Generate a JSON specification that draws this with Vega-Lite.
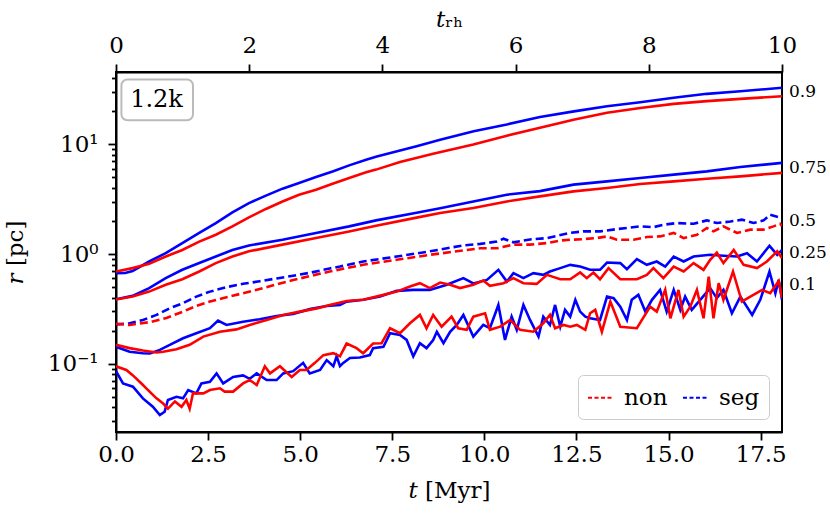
{
  "$schema": "https://vega.github.io/schema/vega-lite/v6.json",
  "width": 666,
  "height": 360,
  "autosize": {"type": "none"},
  "padding": {"left": 116, "top": 72, "right": 48, "bottom": 83},
  "config": {
    "font": "DejaVu Serif",
    "view": {"stroke": "black", "strokeWidth": 2},
    "axis": {
      "domainColor": "black", "domainWidth": 2, "tickColor": "black", "tickWidth": 1.8,
      "labelColor": "black", "titleColor": "black", "labelFont": "DejaVu Serif", "titleFont": "DejaVu Serif",
      "labelFontSize": 23, "titleFontSize": 23, "titleFontWeight": "normal", "grid": false, "tickSize": 8,
      "labelFlush": false
    }
  },
  "resolve": {"axis": {"y": "independent"}},
  "datasets": {
    "lines": [
      {"model":"seg","frac":"0.9","t":0,"r":0.671},{"model":"seg","frac":"0.9","t":0.25,"r":0.672},{"model":"seg","frac":"0.9","t":0.45,"r":0.7},{"model":"seg","frac":"0.9","t":0.9,"r":0.856},{"model":"seg","frac":"0.9","t":1.35,"r":1.02},{"model":"seg","frac":"0.9","t":1.8,"r":1.26},{"model":"seg","frac":"0.9","t":2.26,"r":1.56},{"model":"seg","frac":"0.9","t":2.71,"r":1.92},{"model":"seg","frac":"0.9","t":3.16,"r":2.4},{"model":"seg","frac":"0.9","t":3.61,"r":2.92},{"model":"seg","frac":"0.9","t":4.07,"r":3.41},{"model":"seg","frac":"0.9","t":4.52,"r":3.95},{"model":"seg","frac":"0.9","t":4.97,"r":4.45},{"model":"seg","frac":"0.9","t":5.43,"r":5.05},{"model":"seg","frac":"0.9","t":5.88,"r":5.67},{"model":"seg","frac":"0.9","t":6.33,"r":6.44},{"model":"seg","frac":"0.9","t":6.79,"r":7.26},{"model":"seg","frac":"0.9","t":7.08,"r":7.75},{"model":"seg","frac":"0.9","t":8.16,"r":9.6},{"model":"seg","frac":"0.9","t":8.8,"r":11.0},{"model":"seg","frac":"0.9","t":9.71,"r":13.2},{"model":"seg","frac":"0.9","t":10.61,"r":15.2},{"model":"seg","frac":"0.9","t":11.51,"r":17.8},{"model":"seg","frac":"0.9","t":12.43,"r":20.0},{"model":"seg","frac":"0.9","t":13.33,"r":22.3},{"model":"seg","frac":"0.9","t":14.23,"r":24.2},{"model":"seg","frac":"0.9","t":15.14,"r":26.6},{"model":"seg","frac":"0.9","t":16.04,"r":28.9},{"model":"seg","frac":"0.9","t":16.95,"r":30.5},{"model":"seg","frac":"0.9","t":18.08,"r":32.8},
      {"model":"non","frac":"0.9","t":0,"r":0.694},{"model":"non","frac":"0.9","t":0.45,"r":0.745},{"model":"non","frac":"0.9","t":0.9,"r":0.815},{"model":"non","frac":"0.9","t":1.35,"r":0.95},{"model":"non","frac":"0.9","t":1.8,"r":1.09},{"model":"non","frac":"0.9","t":2.26,"r":1.3},{"model":"non","frac":"0.9","t":2.71,"r":1.5},{"model":"non","frac":"0.9","t":3.16,"r":1.79},{"model":"non","frac":"0.9","t":3.61,"r":2.16},{"model":"non","frac":"0.9","t":4.07,"r":2.58},{"model":"non","frac":"0.9","t":4.52,"r":3.02},{"model":"non","frac":"0.9","t":4.97,"r":3.48},{"model":"non","frac":"0.9","t":5.43,"r":3.86},{"model":"non","frac":"0.9","t":5.88,"r":4.38},{"model":"non","frac":"0.9","t":6.33,"r":4.95},{"model":"non","frac":"0.9","t":6.79,"r":5.56},{"model":"non","frac":"0.9","t":7.06,"r":5.89},{"model":"non","frac":"0.9","t":7.71,"r":6.9},{"model":"non","frac":"0.9","t":8.61,"r":8.2},{"model":"non","frac":"0.9","t":9.7,"r":9.96},{"model":"non","frac":"0.9","t":10.61,"r":12.0},{"model":"non","frac":"0.9","t":11.51,"r":14.2},{"model":"non","frac":"0.9","t":12.42,"r":16.8},{"model":"non","frac":"0.9","t":13.33,"r":19.4},{"model":"non","frac":"0.9","t":14.23,"r":21.5},{"model":"non","frac":"0.9","t":15.14,"r":23.4},{"model":"non","frac":"0.9","t":16.04,"r":24.8},{"model":"non","frac":"0.9","t":16.95,"r":26.0},{"model":"non","frac":"0.9","t":18.08,"r":27.5},
      {"model":"seg","frac":"0.75","t":0,"r":0.388},{"model":"seg","frac":"0.75","t":0.45,"r":0.416},{"model":"seg","frac":"0.75","t":0.9,"r":0.489},{"model":"seg","frac":"0.75","t":1.35,"r":0.603},{"model":"seg","frac":"0.75","t":1.8,"r":0.72},{"model":"seg","frac":"0.75","t":2.26,"r":0.83},{"model":"seg","frac":"0.75","t":2.71,"r":0.95},{"model":"seg","frac":"0.75","t":3.16,"r":1.09},{"model":"seg","frac":"0.75","t":3.61,"r":1.2},{"model":"seg","frac":"0.75","t":4.52,"r":1.35},{"model":"seg","frac":"0.75","t":5.43,"r":1.56},{"model":"seg","frac":"0.75","t":6.33,"r":1.79},{"model":"seg","frac":"0.75","t":7.06,"r":2.03},{"model":"seg","frac":"0.75","t":8.16,"r":2.38},{"model":"seg","frac":"0.75","t":8.8,"r":2.62},{"model":"seg","frac":"0.75","t":9.7,"r":3.02},{"model":"seg","frac":"0.75","t":10.61,"r":3.48},{"model":"seg","frac":"0.75","t":11.51,"r":3.75},{"model":"seg","frac":"0.75","t":12.42,"r":4.3},{"model":"seg","frac":"0.75","t":13.33,"r":4.6},{"model":"seg","frac":"0.75","t":14.23,"r":4.94},{"model":"seg","frac":"0.75","t":15.14,"r":5.3},{"model":"seg","frac":"0.75","t":16.04,"r":5.68},{"model":"seg","frac":"0.75","t":16.95,"r":6.23},{"model":"seg","frac":"0.75","t":18.08,"r":6.78},
      {"model":"non","frac":"0.75","t":0,"r":0.385},{"model":"non","frac":"0.75","t":0.45,"r":0.41},{"model":"non","frac":"0.75","t":0.9,"r":0.455},{"model":"non","frac":"0.75","t":1.35,"r":0.525},{"model":"non","frac":"0.75","t":1.8,"r":0.59},{"model":"non","frac":"0.75","t":2.26,"r":0.694},{"model":"non","frac":"0.75","t":2.71,"r":0.828},{"model":"non","frac":"0.75","t":3.16,"r":0.95},{"model":"non","frac":"0.75","t":3.61,"r":1.06},{"model":"non","frac":"0.75","t":4.52,"r":1.22},{"model":"non","frac":"0.75","t":5.43,"r":1.4},{"model":"non","frac":"0.75","t":6.33,"r":1.61},{"model":"non","frac":"0.75","t":7.06,"r":1.81},{"model":"non","frac":"0.75","t":8.16,"r":2.15},{"model":"non","frac":"0.75","t":8.8,"r":2.37},{"model":"non","frac":"0.75","t":9.7,"r":2.63},{"model":"non","frac":"0.75","t":10.61,"r":3.02},{"model":"non","frac":"0.75","t":11.51,"r":3.36},{"model":"non","frac":"0.75","t":12.42,"r":3.73},{"model":"non","frac":"0.75","t":13.33,"r":4.01},{"model":"non","frac":"0.75","t":14.23,"r":4.36},{"model":"non","frac":"0.75","t":15.14,"r":4.6},{"model":"non","frac":"0.75","t":16.04,"r":4.87},{"model":"non","frac":"0.75","t":16.95,"r":5.11},{"model":"non","frac":"0.75","t":18.08,"r":5.5},
      {"model":"seg","frac":"0.5","t":0,"r":0.229},{"model":"seg","frac":"0.5","t":0.37,"r":0.234},{"model":"seg","frac":"0.5","t":0.73,"r":0.251},{"model":"seg","frac":"0.5","t":1.1,"r":0.279},{"model":"seg","frac":"0.5","t":1.46,"r":0.321},{"model":"seg","frac":"0.5","t":1.82,"r":0.357},{"model":"seg","frac":"0.5","t":2.18,"r":0.41},{"model":"seg","frac":"0.5","t":2.55,"r":0.455},{"model":"seg","frac":"0.5","t":3.0,"r":0.5},{"model":"seg","frac":"0.5","t":3.45,"r":0.536},{"model":"seg","frac":"0.5","t":3.9,"r":0.565},{"model":"seg","frac":"0.5","t":4.36,"r":0.6},{"model":"seg","frac":"0.5","t":4.81,"r":0.635},{"model":"seg","frac":"0.5","t":5.26,"r":0.675},{"model":"seg","frac":"0.5","t":5.8,"r":0.74},{"model":"seg","frac":"0.5","t":6.08,"r":0.77},{"model":"seg","frac":"0.5","t":6.71,"r":0.856},{"model":"seg","frac":"0.5","t":7.62,"r":0.95},{"model":"seg","frac":"0.5","t":8.52,"r":1.06},{"model":"seg","frac":"0.5","t":9.43,"r":1.2},{"model":"seg","frac":"0.5","t":9.89,"r":1.24},{"model":"seg","frac":"0.5","t":10.34,"r":1.3},{"model":"seg","frac":"0.5","t":10.52,"r":1.38},{"model":"seg","frac":"0.5","t":10.79,"r":1.28},{"model":"seg","frac":"0.5","t":11.24,"r":1.36},{"model":"seg","frac":"0.5","t":11.7,"r":1.4},{"model":"seg","frac":"0.5","t":12.33,"r":1.56},{"model":"seg","frac":"0.5","t":12.69,"r":1.61},{"model":"seg","frac":"0.5","t":13.14,"r":1.61},{"model":"seg","frac":"0.5","t":13.6,"r":1.69},{"model":"seg","frac":"0.5","t":14.23,"r":1.79},{"model":"seg","frac":"0.5","t":14.59,"r":1.76},{"model":"seg","frac":"0.5","t":14.86,"r":1.85},{"model":"seg","frac":"0.5","t":15.22,"r":1.92},{"model":"seg","frac":"0.5","t":15.68,"r":1.89},{"model":"seg","frac":"0.5","t":16.04,"r":2.03},{"model":"seg","frac":"0.5","t":16.31,"r":1.92},{"model":"seg","frac":"0.5","t":16.68,"r":1.98},{"model":"seg","frac":"0.5","t":16.99,"r":2.06},{"model":"seg","frac":"0.5","t":17.31,"r":1.92},{"model":"seg","frac":"0.5","t":17.58,"r":2.03},{"model":"seg","frac":"0.5","t":17.76,"r":2.29},{"model":"seg","frac":"0.5","t":18.08,"r":2.13},
      {"model":"non","frac":"0.5","t":0,"r":0.231},{"model":"non","frac":"0.5","t":0.37,"r":0.226},{"model":"non","frac":"0.5","t":0.92,"r":0.24},{"model":"non","frac":"0.5","t":1.37,"r":0.262},{"model":"non","frac":"0.5","t":1.82,"r":0.299},{"model":"non","frac":"0.5","t":2.18,"r":0.337},{"model":"non","frac":"0.5","t":2.55,"r":0.369},{"model":"non","frac":"0.5","t":3.0,"r":0.405},{"model":"non","frac":"0.5","t":3.45,"r":0.44},{"model":"non","frac":"0.5","t":3.9,"r":0.48},{"model":"non","frac":"0.5","t":4.36,"r":0.53},{"model":"non","frac":"0.5","t":4.81,"r":0.58},{"model":"non","frac":"0.5","t":5.26,"r":0.63},{"model":"non","frac":"0.5","t":5.8,"r":0.694},{"model":"non","frac":"0.5","t":6.08,"r":0.725},{"model":"non","frac":"0.5","t":6.71,"r":0.8},{"model":"non","frac":"0.5","t":7.62,"r":0.887},{"model":"non","frac":"0.5","t":8.52,"r":0.985},{"model":"non","frac":"0.5","t":9.43,"r":1.08},{"model":"non","frac":"0.5","t":9.89,"r":1.13},{"model":"non","frac":"0.5","t":10.34,"r":1.13},{"model":"non","frac":"0.5","t":10.79,"r":1.22},{"model":"non","frac":"0.5","t":11.24,"r":1.22},{"model":"non","frac":"0.5","t":11.7,"r":1.26},{"model":"non","frac":"0.5","t":12.06,"r":1.33},{"model":"non","frac":"0.5","t":12.33,"r":1.35},{"model":"non","frac":"0.5","t":12.69,"r":1.37},{"model":"non","frac":"0.5","t":13.05,"r":1.4},{"model":"non","frac":"0.5","t":13.33,"r":1.45},{"model":"non","frac":"0.5","t":13.6,"r":1.35},{"model":"non","frac":"0.5","t":14.05,"r":1.35},{"model":"non","frac":"0.5","t":14.41,"r":1.43},{"model":"non","frac":"0.5","t":14.77,"r":1.45},{"model":"non","frac":"0.5","t":15.14,"r":1.56},{"model":"non","frac":"0.5","t":15.41,"r":1.4},{"model":"non","frac":"0.5","t":15.77,"r":1.5},{"model":"non","frac":"0.5","t":16.04,"r":1.73},{"model":"non","frac":"0.5","t":16.22,"r":1.61},{"model":"non","frac":"0.5","t":16.49,"r":1.79},{"model":"non","frac":"0.5","t":16.86,"r":1.56},{"model":"non","frac":"0.5","t":17.22,"r":1.67},{"model":"non","frac":"0.5","t":17.58,"r":1.67},{"model":"non","frac":"0.5","t":17.85,"r":1.79},{"model":"non","frac":"0.5","t":18.03,"r":1.89},{"model":"non","frac":"0.5","t":18.08,"r":1.81},
      {"model":"seg","frac":"0.25","t":0,"r":0.143},{"model":"seg","frac":"0.25","t":0.37,"r":0.129},{"model":"seg","frac":"0.25","t":0.73,"r":0.125},{"model":"seg","frac":"0.25","t":0.92,"r":0.124},{"model":"seg","frac":"0.25","t":1.19,"r":0.134},{"model":"seg","frac":"0.25","t":1.46,"r":0.149},{"model":"seg","frac":"0.25","t":1.82,"r":0.171},{"model":"seg","frac":"0.25","t":2.18,"r":0.19},{"model":"seg","frac":"0.25","t":2.55,"r":0.211},{"model":"seg","frac":"0.25","t":2.77,"r":0.248},{"model":"seg","frac":"0.25","t":3.0,"r":0.226},{"model":"seg","frac":"0.25","t":3.45,"r":0.242},{"model":"seg","frac":"0.25","t":3.9,"r":0.255},{"model":"seg","frac":"0.25","t":4.36,"r":0.273},{"model":"seg","frac":"0.25","t":4.81,"r":0.285},{"model":"seg","frac":"0.25","t":5.26,"r":0.315},{"model":"seg","frac":"0.25","t":5.72,"r":0.337},{"model":"seg","frac":"0.25","t":6.08,"r":0.344},{"model":"seg","frac":"0.25","t":6.26,"r":0.369},{"model":"seg","frac":"0.25","t":6.71,"r":0.383},{"model":"seg","frac":"0.25","t":7.17,"r":0.41},{"model":"seg","frac":"0.25","t":7.62,"r":0.462},{"model":"seg","frac":"0.25","t":8.07,"r":0.472},{"model":"seg","frac":"0.25","t":8.52,"r":0.472},{"model":"seg","frac":"0.25","t":8.98,"r":0.525},{"model":"seg","frac":"0.25","t":9.43,"r":0.604},{"model":"seg","frac":"0.25","t":9.7,"r":0.54},{"model":"seg","frac":"0.25","t":10.07,"r":0.582},{"model":"seg","frac":"0.25","t":10.38,"r":0.719},{"model":"seg","frac":"0.25","t":10.61,"r":0.562},{"model":"seg","frac":"0.25","t":10.79,"r":0.67},{"model":"seg","frac":"0.25","t":11.06,"r":0.604},{"model":"seg","frac":"0.25","t":11.33,"r":0.67},{"model":"seg","frac":"0.25","t":11.6,"r":0.647},{"model":"seg","frac":"0.25","t":11.78,"r":0.694},{"model":"seg","frac":"0.25","t":12.06,"r":0.745},{"model":"seg","frac":"0.25","t":12.33,"r":0.798},{"model":"seg","frac":"0.25","t":12.6,"r":0.77},{"model":"seg","frac":"0.25","t":12.87,"r":0.719},{"model":"seg","frac":"0.25","t":13.14,"r":0.719},{"model":"seg","frac":"0.25","t":13.33,"r":0.838},{"model":"seg","frac":"0.25","t":13.69,"r":0.828},{"model":"seg","frac":"0.25","t":13.87,"r":0.73},{"model":"seg","frac":"0.25","t":14.14,"r":0.9},{"model":"seg","frac":"0.25","t":14.41,"r":0.798},{"model":"seg","frac":"0.25","t":14.68,"r":0.856},{"model":"seg","frac":"0.25","t":14.91,"r":0.77},{"model":"seg","frac":"0.25","t":15.14,"r":0.95},{"model":"seg","frac":"0.25","t":15.41,"r":0.856},{"model":"seg","frac":"0.25","t":15.68,"r":0.95},{"model":"seg","frac":"0.25","t":16.13,"r":0.985},{"model":"seg","frac":"0.25","t":16.49,"r":0.965},{"model":"seg","frac":"0.25","t":16.86,"r":0.95},{"model":"seg","frac":"0.25","t":17.13,"r":1.02},{"model":"seg","frac":"0.25","t":17.4,"r":0.856},{"model":"seg","frac":"0.25","t":17.74,"r":1.19},{"model":"seg","frac":"0.25","t":17.95,"r":0.985},{"model":"seg","frac":"0.25","t":18.08,"r":1.09},
      {"model":"non","frac":"0.25","t":0,"r":0.149},{"model":"non","frac":"0.25","t":0.37,"r":0.139},{"model":"non","frac":"0.25","t":0.73,"r":0.132},{"model":"non","frac":"0.25","t":1.1,"r":0.127},{"model":"non","frac":"0.25","t":1.28,"r":0.129},{"model":"non","frac":"0.25","t":1.64,"r":0.136},{"model":"non","frac":"0.25","t":2.0,"r":0.149},{"model":"non","frac":"0.25","t":2.37,"r":0.177},{"model":"non","frac":"0.25","t":2.82,"r":0.196},{"model":"non","frac":"0.25","t":3.27,"r":0.206},{"model":"non","frac":"0.25","t":3.63,"r":0.226},{"model":"non","frac":"0.25","t":4.09,"r":0.251},{"model":"non","frac":"0.25","t":4.54,"r":0.279},{"model":"non","frac":"0.25","t":4.99,"r":0.299},{"model":"non","frac":"0.25","t":5.45,"r":0.32},{"model":"non","frac":"0.25","t":5.8,"r":0.344},{"model":"non","frac":"0.25","t":6.26,"r":0.374},{"model":"non","frac":"0.25","t":6.71,"r":0.383},{"model":"non","frac":"0.25","t":7.26,"r":0.425},{"model":"non","frac":"0.25","t":7.62,"r":0.455},{"model":"non","frac":"0.25","t":7.98,"r":0.506},{"model":"non","frac":"0.25","t":8.25,"r":0.543},{"model":"non","frac":"0.25","t":8.52,"r":0.49},{"model":"non","frac":"0.25","t":8.8,"r":0.55},{"model":"non","frac":"0.25","t":9.07,"r":0.525},{"model":"non","frac":"0.25","t":9.34,"r":0.49},{"model":"non","frac":"0.25","t":9.7,"r":0.525},{"model":"non","frac":"0.25","t":9.97,"r":0.574},{"model":"non","frac":"0.25","t":10.15,"r":0.514},{"model":"non","frac":"0.25","t":10.52,"r":0.543},{"model":"non","frac":"0.25","t":10.79,"r":0.604},{"model":"non","frac":"0.25","t":11.06,"r":0.543},{"model":"non","frac":"0.25","t":11.42,"r":0.535},{"model":"non","frac":"0.25","t":11.7,"r":0.647},{"model":"non","frac":"0.25","t":12.06,"r":0.59},{"model":"non","frac":"0.25","t":12.33,"r":0.59},{"model":"non","frac":"0.25","t":12.6,"r":0.68},{"model":"non","frac":"0.25","t":12.78,"r":0.604},{"model":"non","frac":"0.25","t":12.96,"r":0.68},{"model":"non","frac":"0.25","t":13.14,"r":0.59},{"model":"non","frac":"0.25","t":13.37,"r":0.745},{"model":"non","frac":"0.25","t":13.69,"r":0.59},{"model":"non","frac":"0.25","t":14.14,"r":0.59},{"model":"non","frac":"0.25","t":14.41,"r":0.647},{"model":"non","frac":"0.25","t":14.59,"r":0.745},{"model":"non","frac":"0.25","t":14.86,"r":0.604},{"model":"non","frac":"0.25","t":15.14,"r":0.77},{"model":"non","frac":"0.25","t":15.41,"r":0.694},{"model":"non","frac":"0.25","t":15.68,"r":0.828},{"model":"non","frac":"0.25","t":15.95,"r":0.719},{"model":"non","frac":"0.25","t":16.13,"r":0.887},{"model":"non","frac":"0.25","t":16.31,"r":1.03},{"model":"non","frac":"0.25","t":16.49,"r":0.828},{"model":"non","frac":"0.25","t":16.77,"r":1.09},{"model":"non","frac":"0.25","t":17.04,"r":0.798},{"model":"non","frac":"0.25","t":17.4,"r":0.745},{"model":"non","frac":"0.25","t":17.67,"r":0.856},{"model":"non","frac":"0.25","t":17.95,"r":1.06},{"model":"non","frac":"0.25","t":18.08,"r":0.919},
      {"model":"seg","frac":"0.1","t":0,"r":0.0857},{"model":"seg","frac":"0.1","t":0.19,"r":0.0662},{"model":"seg","frac":"0.1","t":0.46,"r":0.0618},{"model":"seg","frac":"0.1","t":0.73,"r":0.0484},{"model":"seg","frac":"0.1","t":1.0,"r":0.0406},{"model":"seg","frac":"0.1","t":1.19,"r":0.0341},{"model":"seg","frac":"0.1","t":1.32,"r":0.0366},{"model":"seg","frac":"0.1","t":1.41,"r":0.0468},{"model":"seg","frac":"0.1","t":1.64,"r":0.05},{"model":"seg","frac":"0.1","t":1.82,"r":0.0484},{"model":"seg","frac":"0.1","t":1.96,"r":0.0577},{"model":"seg","frac":"0.1","t":2.18,"r":0.0538},{"model":"seg","frac":"0.1","t":2.32,"r":0.0662},{"model":"seg","frac":"0.1","t":2.55,"r":0.0685},{"model":"seg","frac":"0.1","t":2.73,"r":0.0818},{"model":"seg","frac":"0.1","t":2.91,"r":0.0662},{"model":"seg","frac":"0.1","t":3.18,"r":0.0758},{"model":"seg","frac":"0.1","t":3.45,"r":0.0784},{"model":"seg","frac":"0.1","t":3.63,"r":0.073},{"model":"seg","frac":"0.1","t":3.82,"r":0.0818},{"model":"seg","frac":"0.1","t":4.09,"r":0.0711},{"model":"seg","frac":"0.1","t":4.36,"r":0.0711},{"model":"seg","frac":"0.1","t":4.54,"r":0.0818},{"model":"seg","frac":"0.1","t":4.81,"r":0.0857},{"model":"seg","frac":"0.1","t":5.08,"r":0.102},{"model":"seg","frac":"0.1","t":5.26,"r":0.0818},{"model":"seg","frac":"0.1","t":5.54,"r":0.0878},{"model":"seg","frac":"0.1","t":5.72,"r":0.108},{"model":"seg","frac":"0.1","t":5.9,"r":0.0951},{"model":"seg","frac":"0.1","t":5.99,"r":0.117},{"model":"seg","frac":"0.1","t":6.08,"r":0.0951},{"model":"seg","frac":"0.1","t":6.17,"r":0.102},{"model":"seg","frac":"0.1","t":6.35,"r":0.113},{"model":"seg","frac":"0.1","t":6.62,"r":0.114},{"model":"seg","frac":"0.1","t":6.89,"r":0.12},{"model":"seg","frac":"0.1","t":6.98,"r":0.139},{"model":"seg","frac":"0.1","t":7.26,"r":0.143},{"model":"seg","frac":"0.1","t":7.44,"r":0.19},{"model":"seg","frac":"0.1","t":7.71,"r":0.183},{"model":"seg","frac":"0.1","t":7.89,"r":0.165},{"model":"seg","frac":"0.1","t":8.07,"r":0.117},{"model":"seg","frac":"0.1","t":8.25,"r":0.154},{"model":"seg","frac":"0.1","t":8.43,"r":0.139},{"model":"seg","frac":"0.1","t":8.61,"r":0.165},{"model":"seg","frac":"0.1","t":8.71,"r":0.196},{"model":"seg","frac":"0.1","t":8.89,"r":0.154},{"model":"seg","frac":"0.1","t":9.07,"r":0.196},{"model":"seg","frac":"0.1","t":9.25,"r":0.226},{"model":"seg","frac":"0.1","t":9.43,"r":0.279},{"model":"seg","frac":"0.1","t":9.7,"r":0.177},{"model":"seg","frac":"0.1","t":9.97,"r":0.226},{"model":"seg","frac":"0.1","t":10.15,"r":0.211},{"model":"seg","frac":"0.1","t":10.38,"r":0.344},{"model":"seg","frac":"0.1","t":10.56,"r":0.165},{"model":"seg","frac":"0.1","t":10.74,"r":0.269},{"model":"seg","frac":"0.1","t":10.88,"r":0.204},{"model":"seg","frac":"0.1","t":11.06,"r":0.344},{"model":"seg","frac":"0.1","t":11.24,"r":0.251},{"model":"seg","frac":"0.1","t":11.47,"r":0.177},{"model":"seg","frac":"0.1","t":11.6,"r":0.269},{"model":"seg","frac":"0.1","t":11.78,"r":0.226},{"model":"seg","frac":"0.1","t":11.92,"r":0.344},{"model":"seg","frac":"0.1","t":12.06,"r":0.218},{"model":"seg","frac":"0.1","t":12.19,"r":0.31},{"model":"seg","frac":"0.1","t":12.33,"r":0.269},{"model":"seg","frac":"0.1","t":12.47,"r":0.383},{"model":"seg","frac":"0.1","t":12.6,"r":0.299},{"model":"seg","frac":"0.1","t":12.74,"r":0.269},{"model":"seg","frac":"0.1","t":12.87,"r":0.26},{"model":"seg","frac":"0.1","t":13.14,"r":0.251},{"model":"seg","frac":"0.1","t":13.33,"r":0.41},{"model":"seg","frac":"0.1","t":13.51,"r":0.397},{"model":"seg","frac":"0.1","t":13.69,"r":0.332},{"model":"seg","frac":"0.1","t":13.87,"r":0.251},{"model":"seg","frac":"0.1","t":14.0,"r":0.383},{"model":"seg","frac":"0.1","t":14.18,"r":0.425},{"model":"seg","frac":"0.1","t":14.37,"r":0.299},{"model":"seg","frac":"0.1","t":14.55,"r":0.383},{"model":"seg","frac":"0.1","t":14.77,"r":0.472},{"model":"seg","frac":"0.1","t":14.95,"r":0.299},{"model":"seg","frac":"0.1","t":15.14,"r":0.472},{"model":"seg","frac":"0.1","t":15.32,"r":0.31},{"model":"seg","frac":"0.1","t":15.45,"r":0.41},{"model":"seg","frac":"0.1","t":15.63,"r":0.31},{"model":"seg","frac":"0.1","t":15.86,"r":0.383},{"model":"seg","frac":"0.1","t":16.13,"r":0.49},{"model":"seg","frac":"0.1","t":16.31,"r":0.397},{"model":"seg","frac":"0.1","t":16.49,"r":0.472},{"model":"seg","frac":"0.1","t":16.72,"r":0.289},{"model":"seg","frac":"0.1","t":16.95,"r":0.41},{"model":"seg","frac":"0.1","t":17.27,"r":0.279},{"model":"seg","frac":"0.1","t":17.49,"r":0.383},{"model":"seg","frac":"0.1","t":17.74,"r":0.694},{"model":"seg","frac":"0.1","t":17.9,"r":0.44},{"model":"seg","frac":"0.1","t":17.99,"r":0.582},{"model":"seg","frac":"0.1","t":18.08,"r":0.383},
      {"model":"non","frac":"0.1","t":0,"r":0.095},{"model":"non","frac":"0.1","t":0.28,"r":0.0878},{"model":"non","frac":"0.1","t":0.46,"r":0.0784},{"model":"non","frac":"0.1","t":0.69,"r":0.0662},{"model":"non","frac":"0.1","t":0.83,"r":0.0594},{"model":"non","frac":"0.1","t":0.96,"r":0.0538},{"model":"non","frac":"0.1","t":1.1,"r":0.0484},{"model":"non","frac":"0.1","t":1.28,"r":0.0434},{"model":"non","frac":"0.1","t":1.41,"r":0.039},{"model":"non","frac":"0.1","t":1.6,"r":0.0454},{"model":"non","frac":"0.1","t":1.78,"r":0.0406},{"model":"non","frac":"0.1","t":1.91,"r":0.0468},{"model":"non","frac":"0.1","t":2.0,"r":0.039},{"model":"non","frac":"0.1","t":2.09,"r":0.0538},{"model":"non","frac":"0.1","t":2.37,"r":0.0538},{"model":"non","frac":"0.1","t":2.55,"r":0.0577},{"model":"non","frac":"0.1","t":2.82,"r":0.0598},{"model":"non","frac":"0.1","t":2.95,"r":0.0558},{"model":"non","frac":"0.1","t":3.18,"r":0.0558},{"model":"non","frac":"0.1","t":3.45,"r":0.0662},{"model":"non","frac":"0.1","t":3.63,"r":0.0711},{"model":"non","frac":"0.1","t":3.82,"r":0.0641},{"model":"non","frac":"0.1","t":4.04,"r":0.095},{"model":"non","frac":"0.1","t":4.18,"r":0.0818},{"model":"non","frac":"0.1","t":4.45,"r":0.095},{"model":"non","frac":"0.1","t":4.77,"r":0.0758},{"model":"non","frac":"0.1","t":4.99,"r":0.0878},{"model":"non","frac":"0.1","t":5.17,"r":0.0878},{"model":"non","frac":"0.1","t":5.4,"r":0.102},{"model":"non","frac":"0.1","t":5.63,"r":0.12},{"model":"non","frac":"0.1","t":5.9,"r":0.125},{"model":"non","frac":"0.1","t":6.08,"r":0.117},{"model":"non","frac":"0.1","t":6.26,"r":0.153},{"model":"non","frac":"0.1","t":6.53,"r":0.139},{"model":"non","frac":"0.1","t":6.71,"r":0.125},{"model":"non","frac":"0.1","t":6.98,"r":0.153},{"model":"non","frac":"0.1","t":7.21,"r":0.154},{"model":"non","frac":"0.1","t":7.44,"r":0.211},{"model":"non","frac":"0.1","t":7.71,"r":0.19},{"model":"non","frac":"0.1","t":7.98,"r":0.234},{"model":"non","frac":"0.1","t":8.25,"r":0.279},{"model":"non","frac":"0.1","t":8.43,"r":0.211},{"model":"non","frac":"0.1","t":8.61,"r":0.279},{"model":"non","frac":"0.1","t":8.84,"r":0.218},{"model":"non","frac":"0.1","t":9.11,"r":0.269},{"model":"non","frac":"0.1","t":9.29,"r":0.211},{"model":"non","frac":"0.1","t":9.52,"r":0.204},{"model":"non","frac":"0.1","t":9.7,"r":0.269},{"model":"non","frac":"0.1","t":10.02,"r":0.289},{"model":"non","frac":"0.1","t":10.15,"r":0.204},{"model":"non","frac":"0.1","t":10.43,"r":0.218},{"model":"non","frac":"0.1","t":10.7,"r":0.251},{"model":"non","frac":"0.1","t":10.97,"r":0.204},{"model":"non","frac":"0.1","t":11.33,"r":0.196},{"model":"non","frac":"0.1","t":11.6,"r":0.234},{"model":"non","frac":"0.1","t":11.78,"r":0.28},{"model":"non","frac":"0.1","t":11.92,"r":0.211},{"model":"non","frac":"0.1","t":12.15,"r":0.226},{"model":"non","frac":"0.1","t":12.33,"r":0.218},{"model":"non","frac":"0.1","t":12.51,"r":0.226},{"model":"non","frac":"0.1","t":12.74,"r":0.204},{"model":"non","frac":"0.1","t":12.87,"r":0.289},{"model":"non","frac":"0.1","t":13.01,"r":0.31},{"model":"non","frac":"0.1","t":13.19,"r":0.196},{"model":"non","frac":"0.1","t":13.42,"r":0.369},{"model":"non","frac":"0.1","t":13.69,"r":0.218},{"model":"non","frac":"0.1","t":14.14,"r":0.211},{"model":"non","frac":"0.1","t":14.5,"r":0.332},{"model":"non","frac":"0.1","t":14.68,"r":0.299},{"model":"non","frac":"0.1","t":14.91,"r":0.472},{"model":"non","frac":"0.1","t":15.05,"r":0.26},{"model":"non","frac":"0.1","t":15.27,"r":0.472},{"model":"non","frac":"0.1","t":15.41,"r":0.269},{"model":"non","frac":"0.1","t":15.59,"r":0.332},{"model":"non","frac":"0.1","t":15.77,"r":0.472},{"model":"non","frac":"0.1","t":15.95,"r":0.26},{"model":"non","frac":"0.1","t":16.09,"r":0.624},{"model":"non","frac":"0.1","t":16.22,"r":0.26},{"model":"non","frac":"0.1","t":16.36,"r":0.543},{"model":"non","frac":"0.1","t":16.49,"r":0.383},{"model":"non","frac":"0.1","t":16.75,"r":0.694},{"model":"non","frac":"0.1","t":16.99,"r":0.369},{"model":"non","frac":"0.1","t":17.22,"r":0.41},{"model":"non","frac":"0.1","t":17.54,"r":0.472},{"model":"non","frac":"0.1","t":17.76,"r":0.44},{"model":"non","frac":"0.1","t":17.99,"r":0.568},{"model":"non","frac":"0.1","t":18.08,"r":0.397}
    ],
    "ends": [
      {"frac": "0.9", "t": 18.08, "r": 30.2},
      {"frac": "0.75", "t": 18.08, "r": 6.1},
      {"frac": "0.5", "t": 18.08, "r": 1.99},
      {"frac": "0.25", "t": 18.08, "r": 1.03},
      {"frac": "0.1", "t": 18.08, "r": 0.525}
    ],
    "tag": [
      {"label": "1.2k", "t": 1.1, "r": 25.6, "t0": 0.147, "t1": 2.09, "r0": 16.6, "r1": 39.1}
    ]
  },
  "layer": [
    {
      "data": {"name": "lines"},
      "transform": [{"filter": "datum.frac != '0.5'"}],
      "mark": {"type": "line", "strokeWidth": 2.6, "clip": true},
      "encoding": {
        "x": {
          "field": "t", "type": "quantitative",
          "scale": {"domain": [0, 18.08], "nice": false, "zero": false},
          "axis": {
            "orient": "bottom", "values": [0, 2.5, 5, 7.5, 10, 12.5, 15, 17.5], "format": ".1f",
            "labelPadding": 3, "title": "𝑡 [Myr]", "titlePadding": 13
          }
        },
        "y": {
          "field": "r", "type": "quantitative",
          "scale": {"type": "log", "domain": [0.0239, 45.7], "nice": false},
          "axis": {
            "orient": "left", "values": [0.1, 1, 10],
            "labelExpr": "datum.value == 0.1 ? '10⁻¹' : datum.value == 1 ? '10⁰' : '10¹'",
            "labelPadding": 10, "title": "𝑟 [pc]", "titlePadding": 20
          }
        },
        "color": {
          "field": "model", "type": "nominal",
          "scale": {"domain": ["non", "seg"], "range": ["#ff0000", "#0000ff"]},
          "legend": {
            "orient": "none", "legendX": 462, "legendY": 303, "direction": "horizontal", "title": null,
            "symbolType": "stroke", "symbolStrokeWidth": 1.8, "symbolDash": [4, 2.5], "symbolSize": 625,
            "labelFont": "DejaVu Serif", "labelFontSize": 23, "labelColor": "black", "labelOffset": 10,
            "columnPadding": 11, "padding": 9, "fillColor": "white", "strokeColor": "#cccccc", "cornerRadius": 5
          }
        },
        "detail": {"field": "frac"}
      }
    },
    {
      "data": {"name": "lines"},
      "transform": [{"filter": "datum.frac == '0.5'"}],
      "mark": {"type": "line", "strokeWidth": 2.6, "strokeDash": [8, 4], "clip": true},
      "encoding": {
        "x": {"field": "t", "type": "quantitative", "axis": null},
        "y": {
          "field": "r", "type": "quantitative",
          "axis": {
            "orient": "left", "values": [0.03, 0.04, 0.05, 0.06, 0.07, 0.08, 0.09, 0.2, 0.3, 0.4, 0.5, 0.6, 0.7, 0.8, 0.9, 2, 3, 4, 5, 6, 7, 8, 9, 20, 30, 40],
            "labels": false, "domain": false, "tickSize": 4.5, "title": null
          }
        },
        "color": {"field": "model", "type": "nominal", "legend": null}
      }
    },
    {
      "data": {"name": "tag"},
      "mark": {"type": "rect", "fill": "white", "stroke": "#bbbbbb", "strokeWidth": 2, "cornerRadius": 6},
      "encoding": {
        "x": {"field": "t0", "type": "quantitative", "axis": null},
        "x2": {"field": "t1"},
        "y": {"field": "r0", "type": "quantitative", "axis": null},
        "y2": {"field": "r1"}
      }
    },
    {
      "data": {"name": "tag"},
      "mark": {"type": "text", "fontSize": 24, "font": "DejaVu Serif", "color": "black", "baseline": "middle", "align": "center"},
      "encoding": {
        "x": {"field": "t", "type": "quantitative", "axis": null},
        "y": {"field": "r", "type": "quantitative", "axis": null},
        "text": {"field": "label"}
      }
    },
    {
      "data": {"name": "ends"},
      "mark": {"type": "text", "fontSize": 17, "font": "DejaVu Serif", "color": "black", "baseline": "middle", "align": "left", "dx": 7},
      "encoding": {
        "x": {
          "field": "t", "type": "quantitative",
          "axis": {
            "orient": "top", "values": [0, 3.616, 7.232, 10.848, 14.464, 18.08],
            "labelExpr": "format(round(datum.value / 1.808), 'd')",
            "labelPadding": 7, "title": "𝑡ᵣₕ", "titlePadding": 3
          }
        },
        "y": {"field": "r", "type": "quantitative", "axis": null},
        "text": {"field": "frac"}
      }
    }
  ]
}
